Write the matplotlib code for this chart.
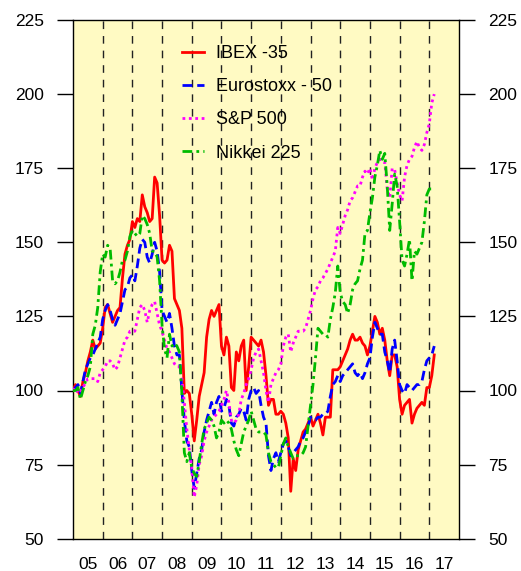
import numpy as np
import matplotlib
matplotlib.use("Agg")
import matplotlib.pyplot as plt

plt.rcParams['font.family'] = ['Liberation Sans', 'DejaVu Sans']

# Monthly index values, Jan 2005 = 100 (Jan 2005 .. Mar 2017)
start_year = 2005
ibex = [100, 102, 100, 98, 103, 106, 110, 113, 117, 114, 115, 116, 121, 128, 129, 126, 123, 125, 127, 128,
        138, 146, 149, 151, 157, 155, 158, 157, 166, 162, 160, 157, 158, 172, 170, 159, 144, 143, 144, 149,
        147, 131, 129, 127, 121, 99, 100, 99, 92, 83, 90, 98, 102, 106, 118, 124, 127, 125, 127, 129,
        115, 112, 118, 115, 101, 100, 113, 110, 115, 117, 100, 108, 118, 117, 116, 115, 117, 113, 105, 95,
        97, 97, 92, 92, 93, 92, 89, 84, 66, 77, 73, 80, 83, 86, 87, 89, 91, 88, 90, 92,
        89, 85, 91, 91, 91, 107, 107, 107, 108, 110, 112, 114, 117, 119, 117, 117, 118, 116, 115, 112,
        115, 120, 125, 123, 119, 121, 117, 110, 105, 112, 112, 108, 97, 92, 95, 96, 97, 89, 92, 94,
        95, 96, 95, 101, 101, 105, 112]
eurostoxx = [100, 101, 102, 99, 103, 107, 109, 111, 112, 114, 116, 118, 124, 127, 129, 127, 124, 122, 124, 126,
             130, 134, 135, 138, 139, 137, 142, 148, 151, 150, 145, 143, 146, 150, 147, 140, 127, 125, 123, 126,
             121, 115, 112, 112, 100, 90, 83, 81, 73, 67, 72, 77, 80, 86, 90, 93, 96, 92, 96, 98,
             93, 94, 97, 95, 89, 88, 91, 92, 94, 93, 90, 97, 100, 101, 99, 100, 95, 91, 89, 78,
             73, 77, 79, 76, 79, 82, 83, 81, 78, 79, 80, 81, 83, 84, 86, 88, 91, 90, 90, 91,
             91, 92, 92, 93, 98, 102, 103, 105, 103, 105, 106, 107, 108, 109, 106, 105, 106, 104, 106, 109,
             111, 118, 123, 121, 119, 119, 113, 110, 106, 114, 117, 110, 102, 100, 99, 102, 101, 100, 101, 102,
             102, 103, 107, 110, 111, 112, 115]
sp500 = [100, 101, 99, 100, 101, 102.5, 104, 104, 104, 104, 103, 106, 107, 108, 110, 110, 109, 107, 108, 111,
         114, 117, 118, 120, 120, 120, 124, 128, 129, 127, 123, 127, 129, 130, 126, 122, 120, 117, 114, 113,
         111, 109, 108, 108, 104, 96, 87, 80, 74, 64, 68, 75, 78, 83, 86, 88, 90, 91, 92, 93,
         95, 97, 100, 96, 90, 89, 90, 92, 97, 99, 102, 104, 107, 111, 113, 114, 110, 106, 100, 96,
         102, 104, 106, 107, 109, 115, 118, 119, 113, 116, 118, 120, 120, 120, 121, 124, 127, 131, 134, 135,
         137, 138, 139.5, 141, 143, 145, 147, 155, 153, 156, 159, 161, 164, 165, 167, 169, 169, 172, 174, 173,
         175, 171, 175, 177, 178, 177, 177, 168, 165, 175, 174.5, 170, 166, 164, 172, 176, 178, 179, 182, 184,
         182, 181, 183, 187, 190, 197, 200]
nikkei = [100, 100, 101, 97, 100, 103, 105, 108, 119, 122, 128, 140, 146, 145, 149, 148, 137, 136, 137, 140,
          144, 144, 147, 152, 154, 153, 152, 153, 159, 158, 156, 153, 147, 147, 145, 137, 122, 114, 111, 119,
          115, 116, 115, 113, 99, 79, 76, 79, 74, 72, 71, 76, 82, 87, 89, 91, 90, 88, 84, 86,
          90, 89, 90, 89, 87, 83, 80, 78, 82, 86, 88, 90, 93, 90, 87, 86, 86, 86, 85, 79,
          76, 75, 74, 74, 78, 82, 84, 81, 79, 77, 78, 78, 78, 79, 81, 88, 95, 102, 111, 121,
          120, 119, 119, 118, 124, 128, 133, 142, 133, 130, 129, 126, 129, 134, 136, 137, 141, 144, 153, 154,
          160, 165, 172, 176, 181, 178, 180, 169, 154, 163, 173, 169, 157, 144, 142, 146, 151, 137, 147, 146,
          148, 150, 157, 166, 168, 168, 168]

series_names = ['IBEX -35', 'Eurostoxx - 50', 'S&P 500', 'Nikkei 225']
year_labels = ['05', '06', '07', '08', '09', '10', '11', '12', '13', '14', '15', '16', '17']
y_ticks = [50, 75, 100, 125, 150, 175, 200, 225]

W, H = 521, 571
fig = plt.figure(figsize=(W / 100, H / 100), dpi=100)
ax = fig.add_axes([73 / W, 1 - 538.7 / H, 386 / W, 518.7 / H])
ax.set_facecolor('#FFFAC3')

n = len(ibex)
t = start_year + np.arange(n) / 12.0

# vertical dashed year separators
for k in range(1, len(year_labels)):
    ax.axvline(start_year + k, color='#222222', lw=1.0, ls=(0, (5.5, 5)), zorder=1)

ax.plot(t, ibex, color='#FF0000', lw=2.0, ls='-', label=series_names[0], zorder=3)
ax.plot(t[:len(eurostoxx)], eurostoxx, color='#0000FF', lw=2.0, ls=(0, (3.5, 1.8)), label=series_names[1], zorder=3)
ax.plot(t[:len(sp500)], sp500, color='#FF00FF', lw=2.0, ls=(0, (1.0, 1.3)), label=series_names[2], zorder=3)
ax.plot(t[:len(nikkei)], nikkei, color='#00BB00', lw=2.0, ls=(0, (3.5, 1.5, 1, 1.5)), label=series_names[3], zorder=3)

ax.set_xlim(start_year, start_year + len(year_labels))
ax.set_ylim(50, 225)

ax.set_xticks([start_year + k + 0.5 for k in range(len(year_labels))])
ax.set_xticklabels(year_labels)
ax.tick_params(axis='x', length=0, pad=13, labelsize=12.5)

ax.set_yticks(y_ticks)
ax.tick_params(axis='y', direction='out', length=11.5, width=1.0, pad=9.5,
               labelsize=12.5, left=True, right=True, labelleft=True, labelright=True)

for s in ax.spines.values():
    s.set_linewidth(1.0)
    s.set_color('black')

leg = ax.legend(loc='upper left', bbox_to_anchor=(0.282, 0.952), frameon=False,
                fontsize=13, handlelength=1.25, handletextpad=0.65, labelspacing=0.9,
                borderpad=0, borderaxespad=0)

fig.savefig('out.png', dpi=100)
